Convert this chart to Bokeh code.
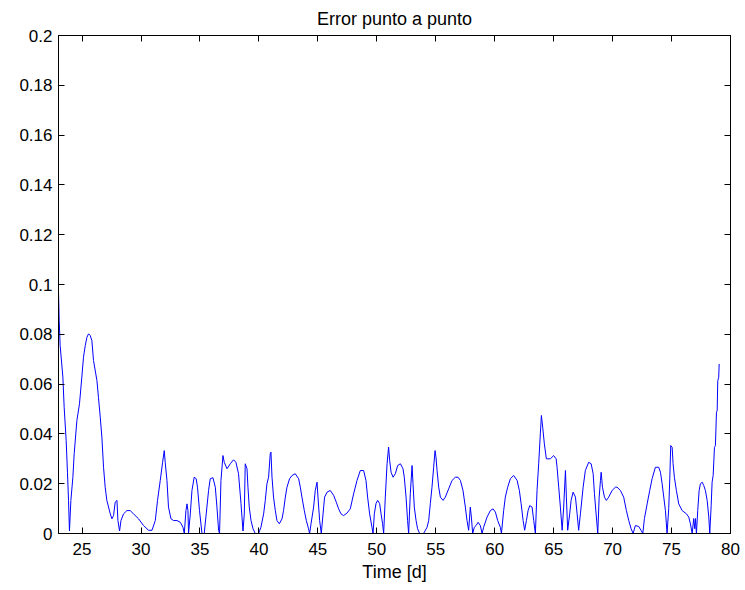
from bokeh.plotting import figure
from bokeh.models import Range1d, FixedTicker, LinearAxis, CustomJSTickFormatter
from bokeh.embed import file_html
from bokeh.resources import INLINE

title_text = "Error punto a punto"
x_label = "Time [d]"
x_ticks = [25, 30, 35, 40, 45, 50, 55, 60, 65, 70, 75, 80]
y_ticks = [0, 0.02, 0.04, 0.06, 0.08, 0.1, 0.12, 0.14, 0.16, 0.18, 0.2]

time_d = [
    23.00, 23.06, 23.14, 23.37, 23.48, 23.65, 23.76, 23.85, 23.93, 24.05,
    24.22, 24.33, 24.56, 24.78, 24.98, 25.12, 25.27, 25.41, 25.55, 25.69,
    25.83, 25.97, 26.26, 26.39, 26.54, 26.68, 26.82, 26.96, 27.10, 27.39,
    27.53, 27.67, 27.81, 27.96, 28.04, 28.18, 28.30, 28.52, 28.80, 29.08,
    29.36, 29.79, 30.21, 30.64, 30.93, 31.21, 31.40, 31.63, 31.83, 31.97,
    32.05, 32.20, 32.33, 32.54, 32.76, 33.05, 33.33, 33.56, 33.67, 33.81,
    33.90, 33.98, 34.03, 34.18, 34.32, 34.51, 34.68, 34.79, 34.96, 35.17,
    35.36, 35.53, 35.73, 35.87, 36.10, 36.30, 36.44, 36.58, 36.66, 36.78,
    36.95, 37.06, 37.29, 37.57, 37.85, 38.05, 38.27, 38.48, 38.65, 38.76,
    38.84, 38.99, 39.07, 39.18, 39.33, 39.50, 39.69, 39.97, 40.17, 40.40,
    40.54, 40.68, 40.82, 40.96, 41.02, 41.11, 41.24, 41.39, 41.53, 41.73,
    41.96, 42.09, 42.24, 42.38, 42.60, 42.81, 43.08, 43.37, 43.51, 43.65,
    43.85, 44.02, 44.21, 44.30, 44.42, 44.64, 44.78, 44.93, 45.01, 45.15,
    45.29, 45.44, 45.57, 45.78, 46.05, 46.34, 46.56, 46.76, 46.96, 47.18,
    47.47, 47.75, 48.03, 48.32, 48.60, 48.88, 49.08, 49.22, 49.39, 49.59,
    49.68, 49.79, 49.93, 50.07, 50.24, 50.36, 50.49, 50.58, 50.72, 50.87,
    51.00, 51.09, 51.21, 51.38, 51.57, 51.77, 52.00, 52.22, 52.33, 52.48,
    52.61, 52.70, 52.84, 52.99, 53.07, 53.18, 53.33, 53.46, 53.63, 53.97,
    54.26, 54.40, 54.54, 54.68, 54.82, 54.94, 55.02, 55.11, 55.25, 55.39,
    55.62, 55.81, 56.09, 56.38, 56.66, 56.89, 57.09, 57.31, 57.51, 57.65,
    57.79, 57.93, 58.02, 58.13, 58.27, 58.42, 58.59, 58.78, 58.93, 59.06,
    59.35, 59.63, 59.86, 60.06, 60.25, 60.48, 60.57, 60.76, 60.90, 61.10,
    61.33, 61.61, 61.90, 62.09, 62.24, 62.41, 62.54, 62.69, 62.83, 62.97,
    63.17, 63.31, 63.45, 63.59, 63.73, 63.87, 63.96, 64.07, 64.21, 64.38,
    64.72, 65.00, 65.21, 65.29, 65.43, 65.57, 65.72, 65.85, 66.00, 66.08,
    66.19, 66.36, 66.48, 66.65, 66.85, 66.99, 67.12, 67.27, 67.50, 67.69,
    67.97, 68.18, 68.35, 68.46, 68.60, 68.74, 68.86, 68.97, 69.03, 69.14,
    69.31, 69.47, 69.67, 69.96, 70.24, 70.38, 70.66, 70.94, 71.17, 71.37,
    71.57, 71.74, 71.93, 72.22, 72.42, 72.56, 72.70, 72.93, 73.15, 73.35,
    73.63, 73.91, 74.06, 74.20, 74.34, 74.48, 74.62, 74.76, 74.85, 74.93,
    75.05, 75.13, 75.24, 75.41, 75.61, 75.90, 76.26, 76.46, 76.60, 76.75,
    76.88, 76.97, 77.03, 77.11, 77.22, 77.34, 77.45, 77.60, 77.73, 77.87,
    78.02, 78.16, 78.24, 78.36, 78.44, 78.53, 78.64, 78.72, 78.81, 78.87,
    78.92, 79.00, 79.04,
]

error = [
    0.097, 0.0855, 0.0755, 0.0628, 0.0507, 0.0373, 0.0246, 0.0133, 0.001, 0.0133,
    0.0226, 0.032, 0.0454, 0.0521, 0.0628, 0.0708, 0.0755, 0.0788, 0.0802, 0.0795,
    0.0775, 0.0695, 0.0614, 0.0547, 0.0467, 0.0387, 0.0266, 0.0186, 0.0133, 0.0079,
    0.0059, 0.0072, 0.0126, 0.0133, 0.0052, 0.001, 0.0052, 0.0079, 0.0092, 0.0092,
    0.0079, 0.0059, 0.0032, 0.0013, 0.0013, 0.0052, 0.0133, 0.0213, 0.0286, 0.0333,
    0.0286, 0.0213, 0.0106, 0.0059, 0.0052, 0.0052, 0.0045, 0.0025, 0.0, 0.0092,
    0.0119, 0.0092, 0.0, 0.0079, 0.0173, 0.0226, 0.022, 0.0186, 0.0092, 0.0,
    0.0, 0.0079, 0.0173, 0.022, 0.0224, 0.0186, 0.0106, 0.0013, 0.0, 0.0213,
    0.0313, 0.0286, 0.026, 0.028, 0.0296, 0.0286, 0.024, 0.012, 0.001, 0.0079,
    0.028, 0.026, 0.0186, 0.0106, 0.0052, 0.0019, 0.0, 0.0, 0.0025, 0.0079,
    0.0133, 0.02, 0.0226, 0.032, 0.0327, 0.0226, 0.0146, 0.0092, 0.0052, 0.0039,
    0.0059, 0.0092, 0.0146, 0.0186, 0.022, 0.0233, 0.024, 0.022, 0.0186, 0.0146,
    0.0092, 0.0052, 0.0019, 0.0, 0.0039, 0.0106, 0.0173, 0.0206, 0.0146, 0.0052,
    0.0, 0.0079, 0.0146, 0.0166, 0.0173, 0.0153, 0.0126, 0.0099, 0.0079, 0.0072,
    0.0082, 0.0099, 0.0159, 0.0213, 0.0253, 0.0253, 0.0213, 0.0146, 0.0079, 0.0025,
    0.0, 0.0079, 0.012, 0.0133, 0.012, 0.0079, 0.0039, 0.0, 0.0146, 0.028,
    0.0347, 0.0293, 0.0246, 0.0226, 0.024, 0.0273, 0.028, 0.026, 0.0226, 0.0146,
    0.0052, 0.0, 0.016, 0.0273, 0.02, 0.0106, 0.0052, 0.0019, 0.0, 0.0,
    0.0025, 0.0052, 0.012, 0.0186, 0.0266, 0.0333, 0.0306, 0.0253, 0.0186, 0.0146,
    0.0133, 0.0146, 0.0179, 0.0213, 0.0226, 0.0226, 0.0213, 0.0173, 0.0106, 0.0052,
    0.0013, 0.0106, 0.0066, 0.0, 0.0025, 0.0032, 0.0045, 0.0032, 0.0, 0.0025,
    0.0066, 0.0092, 0.0099, 0.0086, 0.0052, 0.0025, 0.0, 0.0092, 0.0146, 0.0186,
    0.022, 0.0233, 0.0213, 0.0173, 0.012, 0.0052, 0.0013, 0.0052, 0.0092, 0.0112,
    0.0106, 0.0052, 0.0, 0.0173, 0.028, 0.04, 0.0474, 0.0427, 0.036, 0.03,
    0.03, 0.0313, 0.03, 0.0266, 0.0186, 0.0106, 0.0013, 0.0106, 0.0253, 0.0146,
    0.0013, 0.0079, 0.0133, 0.0166, 0.0146, 0.0079, 0.0013, 0.0079, 0.0186, 0.0253,
    0.0286, 0.028, 0.024, 0.016, 0.0079, 0.0, 0.0146, 0.0213, 0.0246, 0.0186,
    0.0146, 0.0133, 0.0146, 0.0173, 0.0186, 0.0186, 0.0173, 0.0146, 0.0092, 0.0052,
    0.0019, 0.0, 0.0032, 0.0028, 0.0012, 0.0, 0.006, 0.0119, 0.0173, 0.022,
    0.0266, 0.0266, 0.0246, 0.02, 0.0146, 0.0092, 0.0, 0.01, 0.022, 0.0353,
    0.0346, 0.028, 0.0226, 0.0173, 0.0119, 0.0092, 0.0079, 0.0066, 0.0039, 0.0,
    0.006, 0.0019, 0.006, 0.0, 0.0092, 0.0173, 0.02, 0.0206, 0.0193, 0.0173,
    0.0133, 0.0066, 0.0, 0.0112, 0.0206, 0.0233, 0.0346, 0.0353, 0.0487, 0.0494,
    0.0614, 0.0627, 0.0681,
]

FONT = "Liberation Sans"

p = figure(width=745, height=590, output_backend="svg", toolbar_location=None,
           x_range=Range1d(23, 80), y_range=Range1d(0, 0.2),
           min_border_left=58, min_border_right=15, min_border_top=35,
           min_border_bottom=57, title=title_text)
p.background_fill_color = "white"
p.border_fill_color = "white"
p.outline_line_color = "black"
p.outline_line_width = 1
p.xgrid.visible = False
p.ygrid.visible = False

p.title.align = "center"
p.title.vertical_align = "top"
p.title.text_font = FONT
p.title.text_font_size = "18px"
p.title.text_font_style = "normal"
p.title.text_color = "black"

p.line(time_d, error, line_color="#0000FF", line_width=1)

yfmt = CustomJSTickFormatter(code="return String(Number(tick.toFixed(4)));")
blank_fmt = CustomJSTickFormatter(code="return '';")

def style_axis(ax, ticks, show_labels):
    ax.ticker = FixedTicker(ticks=ticks)
    ax.major_tick_in = 6
    ax.major_tick_out = 0
    ax.minor_tick_line_color = None
    ax.axis_line_color = "black"
    ax.major_tick_line_color = "black"
    ax.major_label_text_font = FONT
    ax.major_label_text_color = "black"
    if show_labels:
        ax.major_label_text_font_size = "17px"
    else:
        ax.formatter = blank_fmt
        ax.major_label_text_font_size = "1px"
        ax.major_label_standoff = 0

style_axis(p.xaxis[0], x_ticks, True)
p.xaxis[0].major_label_standoff = 9
p.xaxis[0].axis_label = x_label
p.xaxis[0].axis_label_text_font = FONT
p.xaxis[0].axis_label_text_font_size = "18px"
p.xaxis[0].axis_label_text_font_style = "normal"
p.xaxis[0].axis_label_text_color = "black"
p.xaxis[0].axis_label_standoff = 4

style_axis(p.yaxis[0], y_ticks, True)
p.yaxis[0].formatter = yfmt
p.yaxis[0].major_label_standoff = 6

top_axis = LinearAxis()
style_axis(top_axis, x_ticks, False)
p.add_layout(top_axis, "above")

right_axis = LinearAxis()
style_axis(right_axis, y_ticks, False)
p.add_layout(right_axis, "right")

open("out.html", "w").write(file_html(p, INLINE))
